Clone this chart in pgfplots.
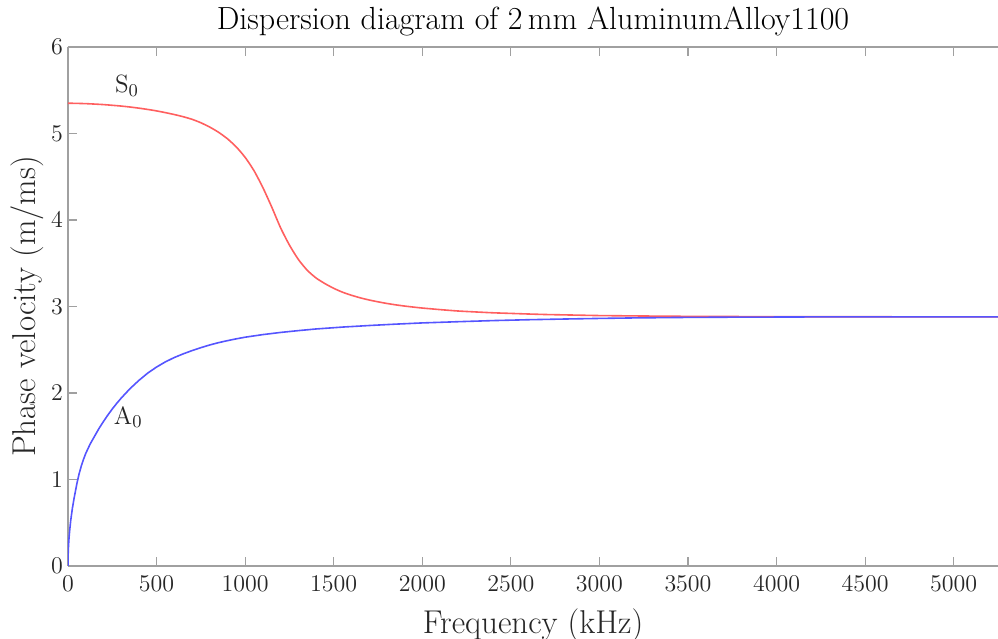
\documentclass[border=0pt]{standalone}
\usepackage{pgfplots}
\pgfplotsset{compat=1.18}
\definecolor{sZero}{RGB}{255,95,95}
\definecolor{aZero}{RGB}{85,85,255}
\definecolor{axgray}{RGB}{160,160,160}
\definecolor{txt}{RGB}{38,38,38}

\begin{document}
\begin{tikzpicture}
\begin{axis}[
  name=ax,
  scale only axis,
  width=465pt, height=259.5pt,
  xmin=0, xmax=5250, ymin=0, ymax=6,
  xtick={0,500,...,5000}, ytick={0,1,...,6},
  axis x line*=box, axis y line*=left,
  axis line style={axgray, line width=0.7pt},
  tick style={axgray, line width=0.6pt},
  tick align=inside, major tick length=4.5pt,
  scaled x ticks=false,
  /pgf/number format/1000 sep={},
  tick label style={font=\fontsize{11.5}{13}\selectfont, text=txt},
  xticklabel style={yshift=-1.5pt},
  yticklabel style={xshift=1pt},
  xlabel={Frequency (kHz)},
  ylabel={Phase velocity (m/ms)},
  label style={font=\fontsize{16.5}{18}\selectfont, text=txt},
  xlabel style={yshift=-2pt},
  ylabel style={yshift=-3pt},
  title={Dispersion diagram of 2\,mm AluminumAlloy1100},
  title style={font=\fontsize{16}{18}\selectfont, text=black, yshift=-4pt},
  clip=true,
]
% S0 mode
\addplot[sZero, line width=0.8pt, smooth, tension=0.4] coordinates {
  (0,5.35)(50,5.348)(100,5.345)(150,5.34)(200,5.334)(250,5.326)(300,5.317)
  (350,5.306)(400,5.293)(450,5.278)(500,5.261)(550,5.241)(600,5.219)
  (650,5.194)(700,5.164)(750,5.124)(800,5.074)(850,5.014)(900,4.939)
  (950,4.844)(1000,4.724)(1050,4.57)(1100,4.375)(1150,4.15)(1200,3.91)
  (1250,3.71)(1300,3.545)(1350,3.42)(1400,3.33)(1450,3.265)(1500,3.21)
  (1550,3.165)(1600,3.13)(1650,3.10)(1700,3.075)(1750,3.054)(1800,3.035)
  (1850,3.019)(1900,3.005)(1950,2.993)(2000,2.982)(2100,2.964)(2200,2.948)
  (2300,2.937)(2400,2.927)(2500,2.92)(2600,2.913)(2700,2.907)(2800,2.903)
  (2900,2.899)(3000,2.895)(3250,2.89)(3500,2.886)(3750,2.884)(4000,2.882)
  (4500,2.881)(5250,2.88)
};
% A0 mode
\addplot[aZero, line width=0.8pt] coordinates {
  (0,0)(1,0.14)(3,0.24)(6,0.33)(10,0.42)(15,0.52)(25,0.67)(35,0.79)
  (50,0.95)(62,1.06)(75,1.155)(87,1.23)(100,1.30)(125,1.41)(150,1.50)
  (175,1.59)(200,1.67)(225,1.745)(250,1.815)(275,1.88)(300,1.94)
  (350,2.05)(400,2.145)(450,2.23)(500,2.30)(550,2.36)(600,2.41)
  (650,2.452)(700,2.49)(750,2.524)(800,2.555)(850,2.582)(900,2.605)
  (950,2.626)(1000,2.645)(1100,2.675)(1200,2.70)(1300,2.721)(1400,2.74)
  (1550,2.762)(1700,2.78)(1850,2.796)(2000,2.81)(2200,2.824)(2400,2.837)
  (2600,2.847)(2800,2.855)(3000,2.862)(3200,2.868)(3450,2.873)(3700,2.876)
  (4000,2.878)(4300,2.88)(5250,2.88)
};
\node[font=\fontsize{12.5}{14}\selectfont, text=txt] at (axis cs:333,5.55) {S$_0$};
\node[font=\fontsize{12.5}{14}\selectfont, text=txt] at (axis cs:340,1.72) {A$_0$};
\end{axis}
\pgfresetboundingbox
\path[use as bounding box] ([xshift=-34pt,yshift=-36.2pt]ax.south west) rectangle ([yshift=23.5pt]ax.north east);
\end{tikzpicture}
\end{document}
